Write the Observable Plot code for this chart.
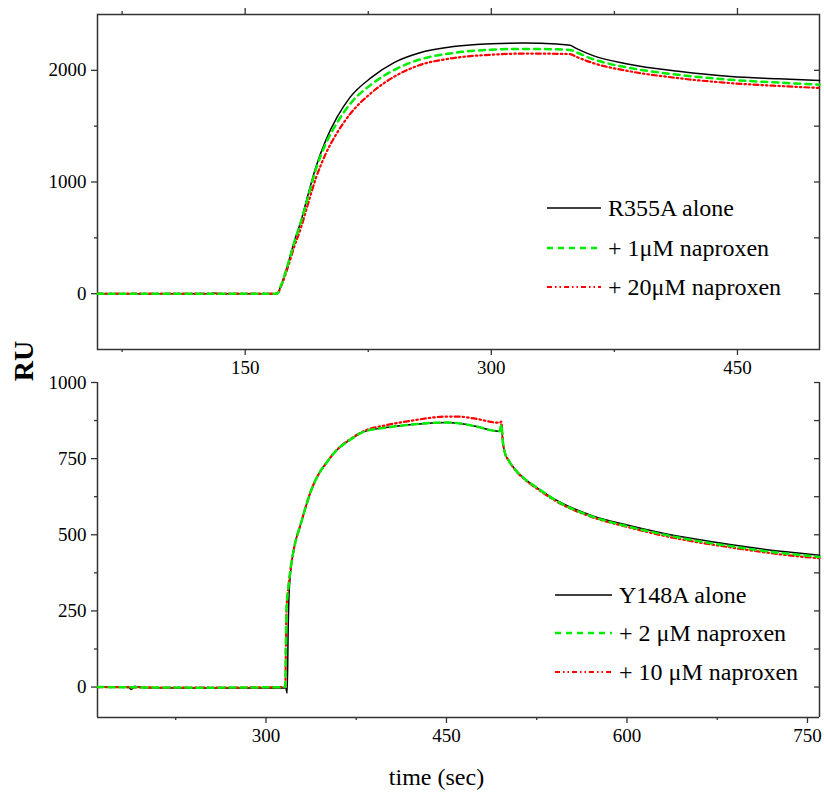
<!DOCTYPE html>
<html>
<head>
<meta charset="utf-8">
<script src="https://cdn.jsdelivr.net/npm/d3@7"></script>
<script src="https://cdn.jsdelivr.net/npm/@observablehq/plot@0.6"></script>
<style>
  html, body { margin: 0; padding: 0; background: white; }
  #wrap { position: relative; width: 824px; height: 799px; font-family: "Liberation Serif", "Times New Roman", serif; }
  #wrap svg { position: absolute; left: 0; }
  .leg { position: absolute; display: flex; align-items: center; font-size: 24px; color: #000; white-space: nowrap; }
  .leg svg { position: static !important; margin-right: 7px; }
  #ru { position: absolute; left: 24px; top: 361px; transform: translate(-50%, -50%) rotate(-90deg); font-size: 28px; font-weight: bold; }
</style>
</head>
<body>
<div id="wrap"><div id="ru">RU</div></div>
<script>
// ---------- Top panel: R355A ----------
const topTimeAlone = [60, 100, 128, 131, 134, 140, 169.5, 172, 176, 180, 184, 188, 193, 199, 206, 214, 227, 241, 256, 277, 300, 320, 340, 348, 352, 362, 383, 414, 446, 475, 500];
const topAlone     = [0, 0, 0, 5, 0, 0, 0, 80, 263, 470, 650, 870, 1130, 1370, 1580, 1760, 1937, 2072, 2156, 2213, 2238, 2244, 2235, 2224, 2195, 2132, 2057, 1991, 1944, 1924, 1908];
const topTimeDrug  = [60, 169.5, 172, 176, 180, 184, 188, 193, 199, 206, 214, 227, 241, 256, 277, 300, 320, 340, 348, 352, 362, 383, 414, 446, 475, 500];
const topNap1      = [0, 0, 80, 260, 465, 645, 850, 1110, 1340, 1530, 1700, 1875, 2005, 2095, 2155, 2185, 2192, 2188, 2182, 2160, 2100, 2025, 1960, 1915, 1890, 1872];
const topNap20     = [0, 0, 70, 235, 425, 590, 790, 1030, 1250, 1440, 1610, 1800, 1945, 2045, 2110, 2140, 2150, 2148, 2145, 2120, 2065, 1995, 1930, 1885, 1860, 1842];
const topXMajor = [150, 300, 450];
const topXMinor = [75, 225, 375];
const topYMajor = [0, 1000, 2000];
const topYMinor = [500, 1500];
const topLegend = ["R355A alone", "+ 1μM naproxen", "+ 20μM naproxen"];

// ---------- Bottom panel: Y148A ----------
const botTimeAlone = [160, 186, 188, 191, 194, 200, 250, 316.5, 317.6, 318.5, 319.5, 323.4, 328.5, 332, 337, 343.6, 350, 358, 370, 381, 400, 421.5, 450, 460, 473, 493.5, 494.5, 495.5, 497, 498.5, 502, 508, 514, 525, 542.5, 571, 600, 629, 658, 687, 715, 740, 760];
const botAlone     = [0, 0, -8, 3, 0, -2, -3, -3, -20, 200, 330, 457, 530, 578, 640, 698, 735, 775, 812, 838, 852, 862, 869, 866, 857, 840, 842, 862, 800, 770, 742, 710, 687, 655, 611, 563, 532, 506, 485, 467, 452, 441, 433];
const botTimeDrug  = [160, 250, 316, 317, 319, 323.4, 328.5, 332, 337, 343.6, 350, 358, 370, 381, 400, 421.5, 450, 460, 473, 493.5, 494.5, 495.5, 497, 498.5, 502, 508, 514, 525, 542.5, 571, 600, 629, 658, 687, 715, 740, 760];
const botNap2      = [0, -2, 0, 250, 340, 457, 530, 578, 640, 698, 735, 775, 812, 838, 852, 862, 869, 866, 857, 840, 842, 862, 800, 770, 742, 710, 687, 655, 609, 560, 528, 502, 480, 462, 446, 435, 427];
const botNap10     = [0, -2, 0, 250, 340, 457, 530, 578, 640, 698, 735, 775, 814, 840, 860, 875, 888, 888, 882, 868, 868, 872, 800, 770, 742, 708, 685, 652, 607, 558, 526, 498, 476, 458, 442, 430, 423];
const botXMajor = [300, 450, 600, 750];
const botXMinor = [225, 375, 525, 675];
const botYMajor = [0, 250, 500, 750, 1000];
const botYMinor = [125, 375, 625, 875];
const botLegend = ["Y148A alone", "+ 2 μM naproxen", "+ 10 μM naproxen"];

const styles = [
  {stroke: "#000000", strokeWidth: 1.5},
  {stroke: "#00ee00", strokeWidth: 2.5, strokeDasharray: "6,5"},
  {stroke: "#ff0000", strokeWidth: 2.2, strokeDasharray: "5,3,1.5,3,1.5,3"}
];

const zip = (ts, vs) => ts.map((t, i) => ({t, v: vs[i]}));
const frameColor = "#333";

function panel({xDomain, yDomain, top, height, mTop, mBottom, series, xMajor, xMinor, yMajor, yMinor, yRight, topTicks, topEdge, extra}) {
  const W = 824, mL = 97, mR = 5;
  const fw = W - mL - mR, fh = height - mTop - mBottom;
  const marks = [];
  // frame
  if (topEdge) marks.push(Plot.frame({stroke: frameColor, strokeWidth: 1.5}));
  else {
    marks.push(Plot.ruleY([yDomain[0]], {stroke: frameColor, strokeWidth: 1.5}));
    marks.push(Plot.ruleX([xDomain[0], xDomain[1]], {stroke: frameColor, strokeWidth: 1.5}));
  }
  // bottom ticks outward
  marks.push(Plot.tickX(xMajor, {x: d => d, insetTop: fh, insetBottom: -6, stroke: frameColor, strokeWidth: 1.3}));
  marks.push(Plot.tickX(xMinor, {x: d => d, insetTop: fh, insetBottom: -3, stroke: frameColor, strokeWidth: 1.3}));
  if (topTicks) {
    marks.push(Plot.tickX(xMajor, {x: d => d, insetTop: -6, insetBottom: fh, stroke: frameColor, strokeWidth: 1.3}));
    marks.push(Plot.tickX(xMinor, {x: d => d, insetTop: -3, insetBottom: fh, stroke: frameColor, strokeWidth: 1.3}));
  }
  // left ticks outward
  marks.push(Plot.tickY(yMajor, {y: d => d, insetLeft: -6, insetRight: fw, stroke: frameColor, strokeWidth: 1.3}));
  marks.push(Plot.tickY(yMinor, {y: d => d, insetLeft: -3, insetRight: fw, stroke: frameColor, strokeWidth: 1.3}));
  // right ticks inward
  marks.push(Plot.tickY(yRight, {y: d => d, insetLeft: fw - 5, stroke: frameColor, strokeWidth: 1.3}));
  // labels
  marks.push(Plot.text(xMajor, {x: d => d, frameAnchor: "bottom", dy: 24, text: d => String(d), fontSize: 19, fill: "#000"}));
  marks.push(Plot.text(yMajor, {y: d => d, frameAnchor: "left", dx: -11, textAnchor: "end", text: d => String(d), fontSize: 19, fill: "#000"}));
  // series: black, red, green order
  [0, 2, 1].forEach(i => {
    marks.push(Plot.line(series[i], {x: "t", y: "v", curve: "monotone-x", ...styles[i]}));
  });
  if (extra) marks.push(...extra);
  const svg = Plot.plot({
    width: W, height,
    marginLeft: mL, marginRight: mR, marginTop: mTop, marginBottom: mBottom,
    x: {domain: xDomain, axis: null},
    y: {domain: yDomain, axis: null},
    style: {background: "transparent", fontFamily: "'Liberation Serif', 'Times New Roman', serif", color: "#000", overflow: "visible"},
    marks
  });
  svg.style.top = top + "px";
  return svg;
}

const wrap = document.getElementById("wrap");

const topSvg = panel({
  xDomain: [60, 500], yDomain: [-500, 2500], top: 0, height: 381, mTop: 14, mBottom: 32,
  series: [zip(topTimeAlone, topAlone), zip(topTimeDrug, topNap1), zip(topTimeDrug, topNap20)],
  xMajor: topXMajor, xMinor: topXMinor, yMajor: topYMajor, yMinor: topYMinor,
  yRight: [0, 500, 1000, 1500, 2000], topTicks: true, topEdge: true
});

const botSvg = panel({
  xDomain: [160, 760], yDomain: [-100, 1000], top: 360, height: 439, mTop: 22, mBottom: 82,
  series: [zip(botTimeAlone, botAlone), zip(botTimeDrug, botNap2), zip(botTimeDrug, botNap10)],
  xMajor: botXMajor, xMinor: botXMinor, yMajor: botYMajor, yMinor: botYMinor,
  yRight: [0, 125, 250, 375, 500, 625, 750, 875, 1000], topTicks: false, topEdge: false,
  extra: [Plot.text(["time (sec)"], {frameAnchor: "bottom", dx: -22, dy: 67, text: d => d, fontSize: 24, fill: "#000"})]
});

wrap.appendChild(botSvg);
wrap.appendChild(topSvg);

function legend(labels, left, tops, lineLen) {
  labels.forEach((lab, i) => {
    const div = document.createElement("div");
    div.className = "leg";
    div.style.left = left + "px";
    div.style.top = (tops[i] - 15) + "px";
    div.style.height = "30px";
    const s = styles[i];
    div.innerHTML = `<svg width="${lineLen}" height="10"><line x1="0" x2="${lineLen}" y1="5" y2="5" stroke="${s.stroke}" stroke-width="${s.strokeWidth}" ${s.strokeDasharray ? `stroke-dasharray="${s.strokeDasharray}"` : ""}/></svg><span>${lab}</span>`;
    wrap.appendChild(div);
  });
}
legend(topLegend, 547, [208, 248, 287], 54);
legend(botLegend, 555, [595, 633, 672], 57);
</script>
</body>
</html>
